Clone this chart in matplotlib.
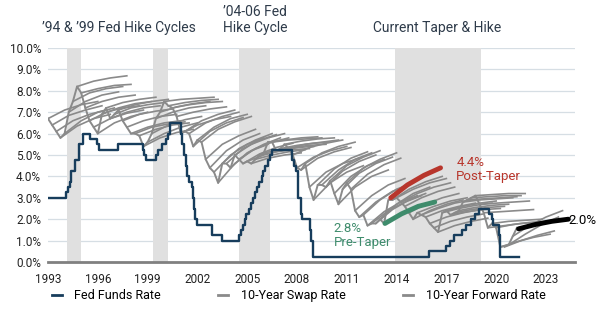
import numpy as np
import matplotlib
matplotlib.use("Agg")
import matplotlib.pyplot as plt
from matplotlib.lines import Line2D

plt.rcParams['font.family'] = ['Roboto', 'DejaVu Sans']

# fed funds rate, step changes (date, rate)
ffr_dates = [1993.0, 1994.1, 1994.2, 1994.3, 1994.37, 1994.62, 1994.87, 1995.1, 1995.52,
             1995.96, 1996.08, 1997.23, 1998.75, 1998.8, 1998.88, 1999.5, 1999.65, 1999.88,
             2000.08, 2000.22, 2000.38, 2001.01, 2001.08, 2001.22, 2001.3, 2001.38, 2001.5,
             2001.65, 2001.72, 2001.8, 2001.87, 2001.95, 2002.87, 2003.5, 2004.5, 2004.62,
             2004.72, 2004.87, 2004.95, 2005.1, 2005.23, 2005.38, 2005.5, 2005.62, 2005.72,
             2005.87, 2005.95, 2006.08, 2006.23, 2006.38, 2006.5, 2007.72, 2007.83, 2007.95,
             2008.05, 2008.08, 2008.22, 2008.33, 2008.77, 2008.83, 2008.96, 2015.96, 2016.96,
             2017.21, 2017.46, 2017.96, 2018.21, 2018.46, 2018.72, 2018.96, 2019.58, 2019.72,
             2019.83, 2020.17, 2020.21, 2021.4]
ffr_values = [3.0, 3.25, 3.5, 3.75, 4.25, 4.75, 5.5, 6.0, 5.75,
              5.5, 5.25, 5.5, 5.25, 5.0, 4.75, 5.0, 5.25, 5.5,
              5.75, 6.0, 6.5, 6.0, 5.5, 5.0, 4.5, 4.0, 3.75,
              3.5, 3.0, 2.5, 2.0, 1.75, 1.25, 1.0, 1.25, 1.5,
              1.75, 2.0, 2.25, 2.5, 2.75, 3.0, 3.25, 3.5, 3.75,
              4.0, 4.25, 4.5, 4.75, 5.0, 5.25, 4.75, 4.5, 4.25,
              3.5, 3.0, 2.25, 2.0, 1.5, 1.0, 0.25, 0.5, 0.75,
              1.0, 1.25, 1.5, 1.75, 2.0, 2.25, 2.5, 2.25, 2.0,
              1.75, 1.25, 0.25, 0.25]

# 10-year swap rate, quarterly from 1993 Q1
swap_values = [6.7, 6.4, 6.1, 5.8,  6.0, 7.0, 7.5, 8.2,  7.9, 7.2, 6.6, 6.3,
               6.0, 6.9, 7.2, 6.7,  6.9, 7.1, 6.6, 6.3,  6.0, 6.0, 5.9, 5.4,
               5.6, 6.0, 6.7, 7.0,  7.5, 7.3, 7.2, 6.8,  6.0, 6.1, 6.0, 5.4,
               5.7, 5.6, 4.8, 4.4,  4.2, 3.7, 4.6, 4.6,  4.4, 5.0, 4.8, 4.6,
               4.7, 4.6, 4.8, 5.0,  5.1, 5.6, 5.6, 5.2,  5.3, 5.5, 5.3, 5.0,
               4.4, 4.3, 4.6, 3.5,  2.9, 3.6, 3.6, 3.5,  3.8, 3.2, 2.7, 3.4,
               3.7, 3.4, 2.4, 2.1,  2.2, 1.7, 1.8, 1.8,  2.0, 1.8, 2.9, 2.9,
               3.0, 2.8, 2.6, 2.3,  2.0, 2.3, 2.2, 2.1,  1.8, 1.6, 1.4, 2.3,
               2.4, 2.2, 2.3, 2.4,  2.8, 2.9, 3.0, 3.1,  2.7, 2.3, 1.6, 1.8,
               1.6, 0.7, 0.75, 0.8,  1.2, 1.6]
swap_dates = 1993 + 0.25 * np.arange(len(swap_values))

# 10-year forward curves: start date and values at +0, +1, +2, +3 years
fwd_starts = [1993.0, 1993.25, 1993.5, 1993.75, 1994.0, 1994.25, 1994.5, 1994.75,
              1995.0, 1995.25, 1995.5, 1995.75, 1996.0, 1996.25, 1996.5, 1996.75,
              1997.0, 1997.25, 1997.5, 1997.75, 1998.0, 1998.25, 1998.5, 1998.75,
              1999.0, 1999.25, 1999.5, 1999.75, 2000.0, 2000.25, 2000.5, 2000.75,
              2001.0, 2001.25, 2001.5, 2001.75, 2002.0, 2002.25, 2002.5, 2002.75,
              2003.0, 2003.25, 2003.5, 2003.75, 2004.0, 2004.25, 2004.5, 2004.75,
              2005.0, 2005.25, 2005.5, 2005.75, 2006.0, 2006.25, 2006.5, 2006.75,
              2007.0, 2007.25, 2007.5, 2007.75, 2008.0, 2008.25, 2008.5, 2008.75,
              2009.0, 2009.25, 2009.5, 2009.75, 2010.0, 2010.25, 2010.5, 2010.75,
              2011.0, 2011.25, 2011.5, 2011.75, 2012.0, 2012.25, 2012.5, 2012.75,
              2013.0, 2013.75, 2014.0, 2014.25, 2014.5, 2014.75,
              2015.0, 2015.25, 2015.5, 2015.75, 2016.0, 2016.25, 2016.5, 2016.75,
              2017.0, 2017.25, 2017.5, 2017.75, 2018.0, 2018.25, 2018.5, 2018.75,
              2019.0, 2019.25, 2019.5, 2019.75, 2020.0, 2020.25, 2020.5, 2020.75,
              2021.0]
fwd_values = [[6.7, 7.1, 7.35, 7.5], [6.4, 6.85, 7.1, 7.3], [6.1, 6.6, 6.9, 7.1], [5.8, 6.35, 6.7, 6.9],
              [6.0, 6.6, 7.0, 7.2], [7.0, 7.5, 7.8, 7.95], [7.5, 7.9, 8.1, 8.2], [8.2, 8.45, 8.6, 8.7],
              [7.9, 8.1, 8.25, 8.3], [7.2, 7.5, 7.7, 7.8], [6.6, 7.0, 7.2, 7.3], [6.3, 6.7, 6.95, 7.1],
              [6.0, 6.5, 6.8, 7.0], [6.9, 7.2, 7.4, 7.5], [7.2, 7.45, 7.6, 7.7], [6.7, 7.0, 7.2, 7.3],
              [6.9, 7.2, 7.35, 7.45], [7.1, 7.35, 7.5, 7.6], [6.6, 6.9, 7.05, 7.15], [6.3, 6.6, 6.8, 6.9],
              [6.0, 6.3, 6.5, 6.6], [6.0, 6.3, 6.45, 6.55], [5.9, 6.2, 6.4, 6.5], [5.4, 5.8, 6.05, 6.2],
              [5.6, 6.0, 6.3, 6.5], [6.0, 6.4, 6.65, 6.8], [6.7, 7.0, 7.2, 7.3], [7.0, 7.25, 7.4, 7.5],
              [7.5, 7.6, 7.65, 7.7], [7.3, 7.45, 7.55, 7.6], [7.2, 7.35, 7.45, 7.5], [6.8, 7.0, 7.15, 7.25],
              [6.0, 6.4, 6.65, 6.8], [6.1, 6.6, 6.9, 7.1], [6.0, 6.5, 6.8, 7.0], [5.4, 6.1, 6.5, 6.75],
              [5.7, 6.3, 6.7, 6.9], [5.6, 6.2, 6.55, 6.8], [4.8, 5.5, 5.9, 6.2], [4.4, 5.2, 5.7, 6.0],
              [4.2, 5.0, 5.5, 5.8], [3.7, 4.6, 5.2, 5.5], [4.6, 5.3, 5.7, 6.0], [4.6, 5.3, 5.7, 5.95],
              [4.4, 5.1, 5.5, 5.8], [5.0, 5.5, 5.8, 6.0], [4.8, 5.3, 5.6, 5.8], [4.6, 5.05, 5.35, 5.55],
              [4.7, 5.0, 5.2, 5.35], [4.6, 4.85, 5.0, 5.1], [4.8, 5.0, 5.15, 5.25], [5.0, 5.15, 5.25, 5.3],
              [5.1, 5.25, 5.35, 5.4], [5.6, 5.7, 5.8, 5.85], [5.6, 5.7, 5.75, 5.8], [5.2, 5.35, 5.45, 5.5],
              [5.3, 5.45, 5.55, 5.6], [5.5, 5.65, 5.75, 5.8], [5.3, 5.5, 5.6, 5.7], [5.0, 5.35, 5.55, 5.7],
              [4.4, 4.9, 5.2, 5.4], [4.3, 4.85, 5.15, 5.35], [4.6, 5.1, 5.4, 5.6], [3.5, 4.2, 4.6, 4.85],
              [2.9, 3.7, 4.2, 4.5], [3.6, 4.35, 4.85, 5.15], [3.6, 4.3, 4.8, 5.1], [3.5, 4.25, 4.7, 5.0],
              [3.8, 4.5, 4.9, 5.2], [3.2, 4.0, 4.5, 4.8], [2.7, 3.5, 4.0, 4.3], [3.4, 4.15, 4.6, 4.9],
              [3.7, 4.4, 4.8, 5.1], [3.4, 4.1, 4.55, 4.85], [2.4, 3.1, 3.6, 3.9], [2.1, 2.8, 3.3, 3.6],
              [2.2, 2.9, 3.4, 3.7], [1.7, 2.35, 2.8, 3.1], [1.8, 2.4, 2.8, 3.1], [1.8, 2.45, 2.9, 3.2],
              [2.0, 2.7, 3.2, 3.5], [2.9, 3.4, 3.75, 4.0], [3.0, 3.4, 3.7, 3.9], [2.8, 3.2, 3.5, 3.7],
              [2.6, 3.0, 3.3, 3.5], [2.3, 2.7, 3.0, 3.2],
              [2.0, 2.4, 2.7, 2.9], [2.3, 2.6, 2.85, 3.0], [2.2, 2.5, 2.75, 2.9], [2.1, 2.4, 2.6, 2.75],
              [1.8, 2.1, 2.3, 2.45], [1.6, 1.9, 2.1, 2.25], [1.4, 1.7, 1.9, 2.05], [2.3, 2.5, 2.65, 2.75],
              [2.4, 2.6, 2.75, 2.85], [2.2, 2.35, 2.45, 2.5], [2.3, 2.45, 2.55, 2.6], [2.4, 2.55, 2.65, 2.7],
              [2.8, 2.9, 2.95, 3.0], [2.9, 2.95, 3.0, 3.05], [3.0, 3.05, 3.1, 3.1], [3.1, 3.15, 3.2, 3.2],
              [2.7, 2.75, 2.8, 2.85], [2.3, 2.35, 2.4, 2.45], [1.6, 1.7, 1.8, 1.85], [1.8, 1.9, 1.95, 2.0],
              [1.6, 1.75, 1.85, 1.9], [0.7, 0.95, 1.15, 1.3], [0.7, 1.0, 1.25, 1.45], [0.8, 1.3, 1.75, 2.1],
              [1.2, 1.7, 2.1, 2.4]]
fwd_offsets = [0, 1, 2, 3]

# highlighted forward curves
pre_taper_start, pre_taper = 2013.3, [1.8, 2.25, 2.6, 2.8]
post_taper_start, post_taper = 2013.65, [3.0, 3.6, 4.05, 4.4]
current_start, current = 2021.35, [1.55, 1.75, 1.9, 2.0]

hike_periods = [(1994.15, 1995.0), (1999.3, 2000.25), (2004.5, 2006.4), (2013.9, 2019.1)]

navy = '#173d5c'
gray = '#8a8a8a'
red = '#b8362c'
green = '#3f8c6c'
title_col = '#2e3b4a'

fig = plt.figure(figsize=(6.02, 3.21), dpi=100)
ax = fig.add_axes([48/602, 59/321, 527/602, 214/321])

for a, b in hike_periods:
    ax.axvspan(a, b, color='#e0e0e0', lw=0, zorder=1)

for s, v in zip(fwd_starts, fwd_values):
    ax.plot(np.add(s, fwd_offsets), v, color=gray, lw=1.2, zorder=2)
ax.plot(swap_dates, swap_values, color=gray, lw=1.4, zorder=3)
ax.step(ffr_dates, ffr_values, where='post', color=navy, lw=1.7, zorder=4)

ax.plot(np.add(pre_taper_start, fwd_offsets), pre_taper, color=green, lw=3.5,
        solid_capstyle='round', zorder=5)
ax.plot(np.add(post_taper_start, fwd_offsets), post_taper, color=red, lw=3.5,
        solid_capstyle='round', zorder=5)
ax.plot(np.add(current_start, fwd_offsets), current, color='black', lw=3.5,
        solid_capstyle='round', zorder=5)

ax.text(2017.6, 4.32, '4.4%\nPost-Taper', color=red, fontsize=9.5, va='center',
        linespacing=1.1)
ax.text(2010.2, 1.24, '2.8%\nPre-Taper', color=green, fontsize=9.5, va='center',
        linespacing=1.1)
ax.text(2024.35, 1.93, '2.0%', color='black', fontsize=9.5, va='center', clip_on=False)

ax.set_xlim(1993, 2024.75)
ax.set_ylim(0, 10)
ax.set_xticks(range(1993, 2024, 3))
ax.set_yticks(range(0, 11))
ax.set_yticklabels(['%.1f%%' % v for v in range(0, 11)])
ax.tick_params(length=0, labelsize=8.5, colors='#222222', pad=5)
ax.tick_params(axis='x', pad=8)
ax.grid(axis='y', color='#d6dee4', lw=0.9)
ax.set_axisbelow(True)
for sp in ['top', 'right', 'left']:
    ax.spines[sp].set_visible(False)
ax.spines['bottom'].set_color('#808080')
ax.spines['bottom'].set_linewidth(2)

fig.text(119/602, 1 - 28/321, '\u201994 & \u201999 Fed Hike Cycles', ha='center', va='center',
         fontsize=10, color=title_col)
fig.text(255/602, 1 - 20/321, '\u201904-06 Fed\nHike Cycle', ha='center', va='center',
         fontsize=10, color=title_col, linespacing=1.1)
fig.text(437/602, 1 - 28/321, 'Current Taper & Hike', ha='center', va='center',
         fontsize=10, color=title_col)

handles = [Line2D([], [], color=navy, lw=2), Line2D([], [], color=gray, lw=2),
           Line2D([], [], color=gray, lw=2)]
labels = ['Fed Funds Rate', '10-Year Swap Rate', '10-Year Forward Rate']
fig.legend(handles, labels, loc='center', bbox_to_anchor=(0.496, 0.078), ncol=3,
           frameon=False, fontsize=9, handlelength=0.8, columnspacing=4.6,
           handletextpad=1.0)

fig.savefig('out.png', dpi=100)
